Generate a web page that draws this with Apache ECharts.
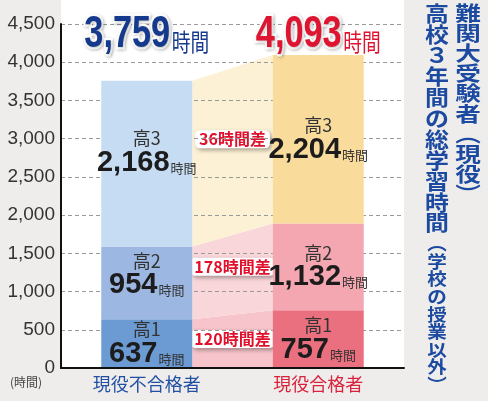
<!DOCTYPE html>
<html>
<head>
<meta charset="utf-8">
<script src="https://cdn.jsdelivr.net/npm/echarts@6/dist/echarts.min.js"></script>
<style>
html,body{margin:0;padding:0;background:#efedeb;}
#main{width:488px;height:401px;}
</style>
</head>
<body>
<div id="main"></div>
<script>
// データ
var categories = ['現役不合格者', '現役合格者'];
var grades = ['高1', '高2', '高3'];
var failHours = [637, 954, 2168];   // 現役不合格者
var passHours = [757, 1132, 2204];  // 現役合格者
var totals = [3759, 4093];

var failColors = ['#6b9bd2', '#9cb8e2', '#c6dcf2'];
var passColors = ['#ea6f7f', '#f4a7b1', '#f9dc9b'];
var bandColors = ['#f6c4ca', '#f9d6da', '#fdf1d5'];
var failLabelShift = [0, -8, -11];  // 不合格者側ラベルの上寄せ(px)
var BAR_W = 91;
var NUM_FONT = '"Liberation Sans",Arial,sans-serif';
var JP_FONT = '"Noto Sans CJK JP",sans-serif';

function fmt(v) { return v.toLocaleString('en-US'); }
function below(arr, i) { var s = 0; for (var k = 0; k < i; k++) s += arr[k]; return s; }

var chart = echarts.init(document.getElementById('main'));

var series = grades.map(function (g, i) {
    return {
        name: g,
        type: 'bar',
        stack: 'total',
        barWidth: BAR_W,
        z: 2,
        data: [
            {value: failHours[i], itemStyle: {color: failColors[i]}, label: {offset: [0, failLabelShift[i]]}},
            {value: passHours[i], itemStyle: {color: passColors[i]}}
        ],
        label: {
            show: true,
            position: 'inside',
            formatter: function (p) { return '{g|' + g + '}\n{n|' + fmt(p.value) + '}{u|時間}'; },
            rich: {
                g: {fontSize: 18, color: '#333', fontFamily: JP_FONT, lineHeight: 21, align: 'center'},
                n: {fontSize: 29, fontWeight: 'bold', color: '#1c1c1c', fontFamily: NUM_FONT, lineHeight: 28},
                u: {fontSize: 13, color: '#333', fontFamily: JP_FONT, lineHeight: 18, padding: [10, 0, 0, 1]}
            }
        }
    };
});

// 差の帯
series.push({
    type: 'custom',
    z: 1,
    data: grades.map(function () { return [0, 0]; }),
    renderItem: function (params, api) {
        var i = params.dataIndex;
        var lo0 = below(failHours, i), hi0 = lo0 + failHours[i];
        var lo1 = below(passHours, i), hi1 = lo1 + passHours[i];
        var lx = api.coord([0, 0])[0] + BAR_W / 2;
        var rx = api.coord([1, 0])[0] - BAR_W / 2;
        var pts = [
            [lx, api.coord([0, lo0])[1]],
            [rx, api.coord([1, lo1])[1]],
            [rx, api.coord([1, hi1])[1]],
            [lx, api.coord([0, hi0])[1]]
        ];
        return {
            type: 'group',
            children: [
                {type: 'polygon', shape: {points: pts}, style: {fill: bandColors[i]}},
                {
                    type: 'text',
                    z2: 10,
                    x: (lx + rx) / 2,
                    y: api.coord([1, (lo1 + hi1) / 2])[1],
                    style: {
                        text: (passHours[i] - failHours[i]) + '時間差',
                        fill: '#e0102c',
                        font: 'bold 16px "Noto Sans CJK JP", sans-serif',
                        align: 'center',
                        verticalAlign: 'middle',
                        backgroundColor: '#fff',
                        borderRadius: 5,
                        padding: [1, 4, 1, 4],
                        shadowBlur: 4,
                        shadowColor: 'rgba(0,0,0,0.35)',
                        shadowOffsetX: 2,
                        shadowOffsetY: 2
                    }
                }
            ]
        };
    }
});

// 合計
series.push({
    type: 'custom',
    z: 5,
    data: totals.map(function (t, i) { return [i, t]; }),
    renderItem: function (params, api) {
        var i = params.dataIndex;
        var c = i === 0 ? '#15398c' : '#de1430';
        return {
            type: 'text',
            x: api.coord([i, 0])[0],
            y: 35,
            scaleX: 0.78,
            style: {
                text: '{n|' + fmt(totals[i]) + '}{u|時間}',
                align: 'center',
                verticalAlign: 'middle',
                rich: {
                    n: {fontSize: 44, fontWeight: 'bold', fontFamily: NUM_FONT, fill: c, stroke: '#fff', lineWidth: 5,
                        textShadowColor: 'rgba(0,0,0,0.25)', textShadowBlur: 3, textShadowOffsetX: 1, textShadowOffsetY: 1},
                    u: {fontSize: 24, fontFamily: JP_FONT, fill: c, stroke: '#fff', lineWidth: 3, padding: [13, 0, 0, 2]}
                }
            }
        };
    }
});

var TITLE_C = '#1c4aa0';
var option = {
    backgroundColor: '#efedeb',
    animation: false,
    grid: {left: 61, right: 84, top: 24, bottom: 33, show: true, backgroundColor: '#fff', borderWidth: 0},
    graphic: [
        {type: 'rect', left: 61, top: 0, z: -1, shape: {width: 343, height: 24}, style: {fill: '#fff'}},
        {type: 'text', left: 10, top: 376, style: {text: '(時間)', fill: '#444', font: '12px "Noto Sans CJK JP", sans-serif'}},
        {type: 'text', x: 468, y: 3, scaleX: 1.28, style: {
            text: '難関大受験者︵現役︶'.split('').join('\n'),
            fill: TITLE_C, font: 'bold 20px "Noto Sans CJK JP", sans-serif', lineHeight: 20.2, align: 'center'}},
        {type: 'text', x: 437, y: 3, scaleX: 1.14, style: {
            text: '高校３年間の総学習時間'.split('').join('\n'),
            fill: TITLE_C, font: 'bold 21px "Noto Sans CJK JP", sans-serif', lineHeight: 20.9, align: 'center'}},
        {type: 'text', x: 437, y: 235, scaleX: 1.15, style: {
            text: '︵学校の授業以外︶'.split('').join('\n'),
            fill: TITLE_C, font: 'bold 17px "Noto Sans CJK JP", sans-serif', lineHeight: 17.6, align: 'center'}}
    ],
    xAxis: {
        type: 'category',
        data: categories,
        z: 3,
        axisLine: {lineStyle: {color: '#111', width: 2}},
        axisTick: {show: false},
        axisLabel: {
            margin: 7,
            formatter: function (v, i) { return (i === 0 ? '{a|' : '{b|') + v + '}'; },
            rich: {
                a: {fontSize: 18, color: '#2250a4', fontFamily: JP_FONT},
                b: {fontSize: 18, color: '#d9233c', fontFamily: JP_FONT}
            }
        }
    },
    yAxis: {
        type: 'value',
        min: 0,
        max: 4500,
        interval: 500,
        z: 1.5,
        axisLine: {show: true, lineStyle: {color: '#111', width: 2}},
        axisTick: {show: false},
        axisLabel: {fontSize: 19, color: '#333', margin: 6, fontFamily: '"Liberation Sans",sans-serif', formatter: fmt},
        splitLine: {lineStyle: {color: '#9a9a9a', type: [4, 3], width: 1.2}}
    },
    series: series
};
chart.setOption(option);
</script>
</body>
</html>
